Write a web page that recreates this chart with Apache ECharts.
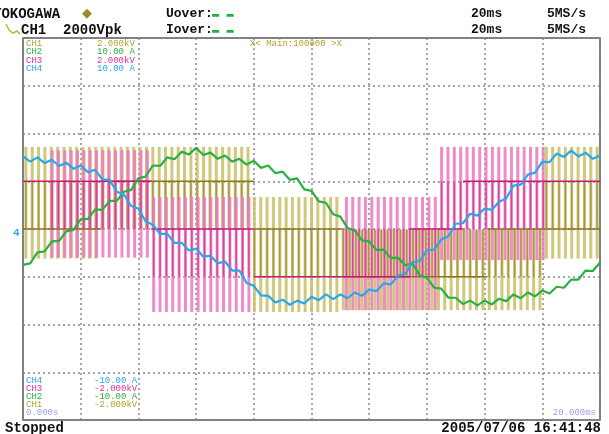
<!DOCTYPE html>
<html><head><meta charset="utf-8">
<script src="https://cdn.jsdelivr.net/npm/echarts@6/dist/echarts.min.js"></script>
<style>html,body{margin:0;padding:0;background:#fff}#c{width:609px;height:434px}</style>
</head><body><div id="c"></div>
<script>
// ---- time base (ms) for the current traces ----
const traceTimes = [0,0.25,0.5,0.75,1,1.25,1.5,1.75,2,2.25,2.5,2.75,3,3.25,3.5,3.75,4,4.25,4.5,4.75,5,5.25,5.5,5.75,6,6.25,6.5,6.75,7,7.25,7.5,7.75,8,8.25,8.5,8.75,9,9.25,9.5,9.75,10,10.25,10.5,10.75,11,11.25,11.5,11.75,12,12.25,12.5,12.75,13,13.25,13.5,13.75,14,14.25,14.5,14.75,15,15.25,15.5,15.75,16,16.25,16.5,16.75,17,17.25,17.5,17.75,18,18.25,18.5,18.75,19,19.25,19.5,19.75,20];
// CH2 current (green), screen divisions
const ch2Values = [3.25,3.28,3.51,3.53,3.74,3.75,3.95,3.98,4.20,4.21,4.41,4.40,4.59,4.59,4.78,4.82,5.06,5.10,5.33,5.32,5.50,5.46,5.62,5.56,5.70,5.55,5.60,5.47,5.54,5.41,5.47,5.35,5.43,5.28,5.33,5.17,5.20,5.03,5.06,4.83,4.80,4.58,4.55,4.31,4.26,4.02,3.97,3.76,3.74,3.56,3.57,3.39,3.40,3.24,3.28,3.03,2.98,2.77,2.75,2.56,2.56,2.43,2.50,2.40,2.50,2.42,2.54,2.49,2.63,2.55,2.67,2.59,2.71,2.65,2.79,2.77,2.94,2.94,3.13,3.12,3.30];
// CH4 current (blue), screen divisions
const ch4Values = [5.52,5.41,5.50,5.38,5.45,5.32,5.39,5.26,5.33,5.19,5.24,5.04,5.03,4.78,4.72,4.48,4.43,4.16,4.09,3.90,3.90,3.71,3.71,3.55,3.59,3.42,3.44,3.28,3.32,3.13,3.13,2.87,2.81,2.61,2.60,2.46,2.52,2.41,2.50,2.44,2.58,2.51,2.63,2.53,2.63,2.55,2.67,2.60,2.73,2.70,2.86,2.84,3.02,3.06,3.30,3.33,3.55,3.57,3.78,3.85,4.11,4.12,4.32,4.28,4.43,4.40,4.57,4.64,4.91,4.93,5.14,5.18,5.41,5.40,5.58,5.51,5.64,5.52,5.60,5.47,5.54];
// switching instants (ms)
const ch1PulseTimes = [0.10,0.32,0.54,0.76,0.98,1.20,1.42,1.64,1.86,2.08,2.30,2.52,2.74,2.96,3.18,3.40,3.62,3.84,4.06,4.28,4.50,4.72,4.94,5.16,5.38,5.60,5.82,6.04,6.26,6.48,6.70,6.92,7.14,7.36,7.58,7.80,8.02,8.24,8.46,8.68,8.90,9.12,9.34,9.56,9.78,10.00,10.22,10.44,10.66,10.88,11.10,11.32,11.54,11.76,11.98,12.20,12.42,12.64,12.86,13.08,13.30,13.52,13.74,13.96,14.18,14.40,14.62,14.84,15.06,15.28,15.50,15.72,15.94,16.16,16.38,16.60,16.82,17.04,17.26,17.48,17.70,17.92,18.14,18.36,18.58,18.80,19.02,19.24,19.46,19.68,19.90];
const ch3PulseTimes = [1.01,1.23,1.45,1.67,1.89,2.11,2.33,2.55,2.77,2.99,3.21,3.43,3.65,3.87,4.09,4.31,4.53,4.75,4.97,5.19,5.41,5.63,5.85,6.07,6.29,6.51,6.73,6.95,7.17,7.39,7.61,7.83,11.21,11.43,11.65,11.87,12.09,12.31,12.53,12.75,12.97,13.19,13.41,13.63,13.85,14.07,14.29,14.51,14.73,14.95,15.17,15.39,15.61,15.83,16.05,16.27,16.49,16.71,16.93,17.15,17.37,17.59,17.81,18.03];
// pulse segments: [from ms, to ms, dwell level, pulse low, pulse high, second level]
const ch1Segments = [[0,2.7,4.0,3.38,5.72,5.0],[2.7,8.0,5.0,3.98,5.72,4.0],[8.0,11.1,4.0,2.26,4.67,3.0],[11.1,16.1,3.0,2.30,3.98,4.0],[16.1,18.1,4.0,2.30,3.98,3.0],[18.1,20.1,4.0,3.38,5.72,5.0]];
const ch3Segments = [[0.9,4.45,5.0,3.40,5.65,4.0],[4.45,7.9,4.0,2.26,4.67,3.0],[11.1,14.5,3.0,2.30,4.67,4.0],[14.5,18.1,5.0,3.35,5.72,4.0]];
// dwell (baseline) segments: [from ms, to ms, level]
const ch1Baselines = [[0,2.7,4.0],[2.7,8.0,5.0],[8.0,11.1,4.0],[11.1,16.1,3.0],[16.1,20,4.0]];
const ch3Baselines = [[0,4.45,5.0],[4.45,8.0,4.0],[8.0,13.4,3.0],[13.4,15.25,4.0],[15.25,20,5.0]];

function buildPulses(times, segs){
  const out=[];
  times.forEach(t=>{
    const s = segs.find(g=>t>=g[0]&&t<g[1]);
    if(s) out.push([t,s[3],s[4],s[2],s[5]]);
  });
  return out;
}
function pulseRender(light, dark){
  return function(params, api){
    const t=api.value(0);
    const lo=api.coord([t,api.value(1)]), hi=api.coord([t,api.value(2)]);
    const c1=api.coord([t,api.value(3)]), c2=api.coord([t,api.value(4)]);
    return {type:'group',children:[
      {type:'rect',shape:{x:lo[0]-1.5,y:hi[1],width:3,height:lo[1]-hi[1]},style:{fill:light}},
      {type:'rect',shape:{x:c1[0]-0.75,y:Math.min(c1[1],c2[1]),width:1.5,height:Math.abs(c1[1]-c2[1])},style:{fill:dark}}
    ]};
  };
}
function baseRender(color){
  return function(params, api){
    const a=api.coord([api.value(0),api.value(2)]), b=api.coord([api.value(1),api.value(2)]);
    return {type:'line',shape:{x1:a[0],y1:a[1],x2:b[0],y2:b[1]},style:{stroke:color,lineWidth:1.6}};
  };
}

const chart = echarts.init(document.getElementById('c'), null, {renderer:'canvas'});
const MONO = 'Liberation Mono';
function txt(x,y,text,color,size,bold,align){
  return {type:'text',x:x,y:y,z:100,style:{text:text,fill:color,font:(bold?'bold ':'')+size+'px "'+MONO+'"',verticalAlign:'middle',align:align||'left'}};
}
const C1='#b4a030', C2='#2ab040', C3='#e0309a', C4='#28a8e8', LAV='#a0a0e8';

chart.setOption({
  animation:false,
  backgroundColor:'#fff',
  grid:{left:23,top:38,width:577,height:382,show:true,borderColor:'#555',borderWidth:1.5,backgroundColor:'#fff'},
  xAxis:{type:'value',min:0,max:20,interval:2,axisLabel:{show:false},axisTick:{show:false},axisLine:{show:false},
    splitLine:{show:true,lineStyle:{type:[2,3],color:'#888',width:1.5}}},
  yAxis:{type:'value',min:0,max:8,interval:1,axisLabel:{show:false},axisTick:{show:false},axisLine:{show:false},
    splitLine:{show:true,lineStyle:{type:[2,3],color:'#888',width:1.5}}},
  series:[
    {type:'custom',name:'CH1 pulses',clip:true,z:2,renderItem:pulseRender('rgba(200,190,100,0.85)','rgba(140,120,30,0.6)'),data:buildPulses(ch1PulseTimes,ch1Segments)},
    {type:'custom',name:'CH3 pulses',clip:true,z:3,renderItem:pulseRender('rgba(235,120,190,0.85)','rgba(208,24,124,0.6)'),data:buildPulses(ch3PulseTimes,ch3Segments)},
    {type:'custom',name:'CH1 base',clip:true,z:4,renderItem:baseRender('#8c7424'),data:ch1Baselines},
    {type:'custom',name:'CH3 base',clip:true,z:5,renderItem:baseRender('#c8187a'),data:ch3Baselines},
    {type:'line',name:'CH2',z:6,showSymbol:false,lineStyle:{color:C2,width:2.2},data:traceTimes.map((t,i)=>[t,ch2Values[i]])},
    {type:'line',name:'CH4',z:7,showSymbol:false,lineStyle:{color:C4,width:2.2},data:traceTimes.map((t,i)=>[t,ch4Values[i]])}
  ],
  graphic:[
    txt(-7,14,'YOKOGAWA','#111',14,true),
    txt(82,14,'\u25C6','#9a8a30',13,false),
    txt(166,14,'Uover:','#111',13,true),
    txt(212,14,'\u25AC \u25AC',C2,12,true),
    txt(166,30,'Iover:','#111',13,true),
    txt(212,30,'\u25AC \u25AC',C2,12,true),
    {type:'polyline',z:100,shape:{points:[[6,24],[9,30],[13,33],[17,31],[20,34]]},style:{stroke:'#c8b040',lineWidth:1.5,fill:null}},
    txt(21,30,'CH1  2000Vpk','#111',14,true),
    txt(471,14,'20ms','#111',13,true),
    txt(547,14,'5MS/s','#111',13,true),
    txt(471,30,'20ms','#111',13,true),
    txt(547,30,'5MS/s','#111',13,true),
    txt(26,44,'CH1',C1,9,false), txt(97,44,'2.000kV',C1,9,false),
    txt(26,52,'CH2',C2,9,false), txt(97,52,'10.00 A',C2,9,false),
    txt(26,61,'CH3',C3,9,false), txt(97,61,'2.000kV',C3,9,false),
    txt(26,69,'CH4',C4,9,false), txt(97,69,'10.00 A',C4,9,false),
    txt(250,44,'X< Main:100000 >X',C1,9,false),
    txt(26,381,'CH4',C4,9,false), txt(94,381,'-10.00 A',C4,9,false),
    txt(26,389,'CH3',C3,9,false), txt(94,389,'-2.000kV',C3,9,false),
    txt(26,397,'CH2',C2,9,false), txt(94,397,'-10.00 A',C2,9,false),
    txt(26,405,'CH1',C1,9,false), txt(94,405,'-2.000kV',C1,9,false),
    txt(26,413,'0.000s',LAV,9,false),
    txt(596,413,'20.000ms',LAV,9,false,'right'),
    txt(13,233,'4',C4,11,true),
    txt(5,428,'Stopped','#111',14,true),
    txt(601,428,'2005/07/06 16:41:48','#111',14,true,'right')
  ]
});
</script></body></html>
